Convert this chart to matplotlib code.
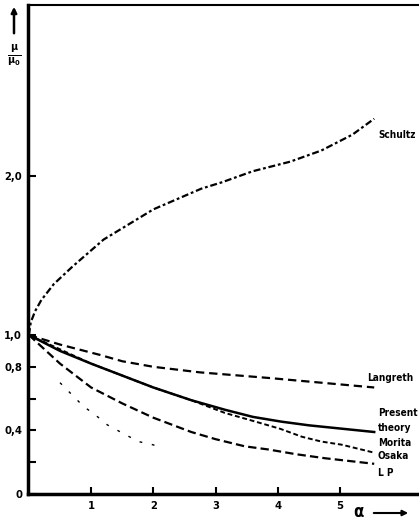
import numpy as np
import matplotlib.pyplot as plt
from matplotlib.patches import FancyArrowPatch

plt.rcParams['lines.scale_dashes'] = False
plt.rcParams['font.family'] = ['DejaVu Sans']
plt.rcParams['font.stretch'] = 'condensed'
plt.rcParams['mathtext.fontset'] = 'dejavusans'

# werte
schultz_x = [0, 0.03, 0.1, 0.2, 0.4, 0.7, 1.2, 2.0, 2.77, 3.1, 3.6, 4.2, 4.7, 5.2, 5.55]
schultz_y = [1.0, 1.08, 1.15, 1.22, 1.32, 1.43, 1.60, 1.79, 1.92, 1.96, 2.03, 2.09, 2.16, 2.26, 2.36]

langreth_x = [0, 0.5, 1.14, 1.5, 2.0, 2.75, 3.85, 4.7, 5.55]
langreth_y = [1.0, 0.94, 0.875, 0.835, 0.80, 0.765, 0.73, 0.70, 0.67]

present_x = [0, 0.5, 1, 2, 2.61, 3.15, 3.6, 4.06, 4.5, 5, 5.55]
present_y = [1.0, 0.90, 0.82, 0.67, 0.59, 0.53, 0.485, 0.455, 0.432, 0.412, 0.39]

morita_x = [0, 1, 2, 2.61, 3.15, 3.6, 4.04, 4.39, 4.7, 5.03, 5.55]
morita_y = [1.0, 0.82, 0.67, 0.59, 0.51, 0.46, 0.41, 0.36, 0.33, 0.31, 0.26]

osaka_x = [0.5, 0.88, 1.06, 1.26, 1.52, 1.76, 1.99, 2.16]
osaka_y = [0.70, 0.55, 0.50, 0.435, 0.38, 0.33, 0.31, 0.29]

lp_x = [0, 0.5, 1, 1.5, 2, 2.61, 3.0, 3.47, 3.85, 4.3, 4.76, 5.55]
lp_y = [1.0, 0.82, 0.67, 0.57, 0.48, 0.39, 0.345, 0.30, 0.28, 0.25, 0.225, 0.19]

yticks = [0, 0.2, 0.4, 0.6, 0.8, 1.0, 2.0]
ytick_labels = ['0', '', '0,4', '', '0,8', '1,0', '2,0']
xticks = [1, 2, 3, 4, 5]

fig = plt.figure(figsize=(4.19, 5.23), dpi=100)
ax = fig.add_axes([0.066, 0.0554, 0.934, 0.935])

ax.plot(schultz_x, schultz_y, color='black', lw=1.6, dashes=(5, 2, 2, 2))
ax.plot(langreth_x, langreth_y, color='black', lw=1.6, dashes=(6, 3.5))
ax.plot(present_x, present_y, color='black', lw=1.8)
ax.plot(morita_x, morita_y, color='black', lw=1.4, dashes=(3.5, 2))
ax.plot(osaka_x, osaka_y, color='black', lw=1.0, dashes=(2, 7))
ax.plot(lp_x, lp_y, color='black', lw=1.6, dashes=(6, 3))

ax.set_xlim(-0.02, 6.27)
ax.set_ylim(0, 3.075)

ax.set_xticks(xticks)
ax.set_xticklabels([str(t) for t in xticks])
ax.set_yticks(yticks)
ax.set_yticklabels(ytick_labels)
ax.tick_params(axis='both', direction='in', width=1.5, labelsize=8)
ax.tick_params(axis='y', length=6, pad=4)
ax.tick_params(axis='x', length=5, pad=5)
for lbl in ax.get_xticklabels() + ax.get_yticklabels():
    lbl.set_fontweight('bold')

ax.spines['right'].set_visible(False)
ax.spines['left'].set_linewidth(2.5)
ax.spines['bottom'].set_linewidth(2.5)
ax.spines['top'].set_linewidth(1.5)

beschriftung = dict(fontsize=7.2, fontweight='bold', va='center', ha='left')
ax.text(5.61, 2.26, 'Schultz', **beschriftung)
ax.text(5.44, 0.73, 'Langreth', **beschriftung)
ax.text(5.61, 0.51, 'Present', **beschriftung)
ax.text(5.61, 0.415, 'theory', **beschriftung)
ax.text(5.61, 0.32, 'Morita', **beschriftung)
ax.text(5.61, 0.24, 'Osaka', **beschriftung)
ax.text(5.61, 0.13, 'L P', **beschriftung)

# achsenpfeile
fig.patches.append(FancyArrowPatch((14 / 419, 1 - 36 / 523), (14 / 419, 1 - 4 / 523),
                                   transform=fig.transFigure, arrowstyle='-|>',
                                   mutation_scale=8, lw=1.8, color='black'))
fig.text(14 / 419, 1 - 55 / 523, r'$\mathbf{\frac{\mu}{\mu_0}}$', fontsize=11,
         ha='center', va='center')
fig.text(358 / 419, 1 - 512 / 523, 'α', fontsize=12, fontweight='bold',
         ha='center', va='center')
fig.patches.append(FancyArrowPatch((371 / 419, 1 - 513 / 523), (411 / 419, 1 - 513 / 523),
                                   transform=fig.transFigure, arrowstyle='-|>',
                                   mutation_scale=8, lw=1.5, color='black'))

fig.savefig('out.png', dpi=100)
